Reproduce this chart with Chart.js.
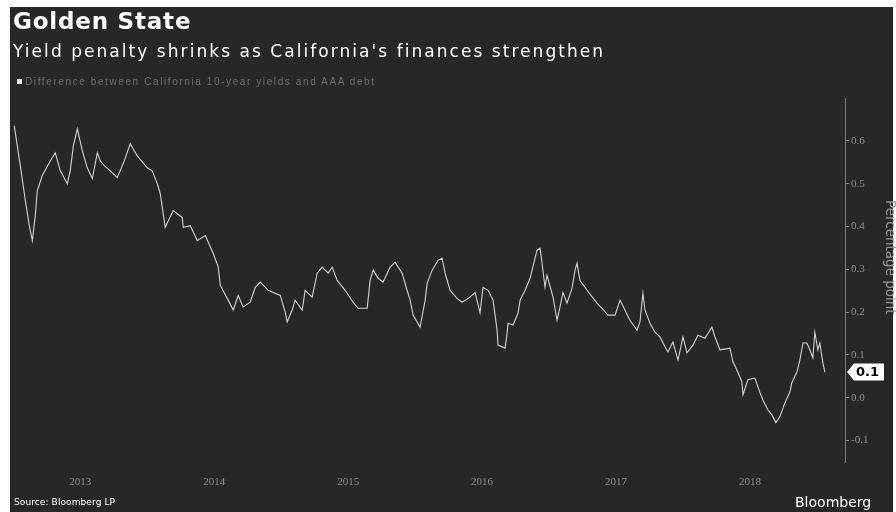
<!DOCTYPE html>
<html>
<head>
<meta charset="utf-8">
<script src="https://cdn.jsdelivr.net/npm/chart.js@4.4.1/dist/chart.umd.min.js"></script>
<style>
  html, body { margin: 0; padding: 0; background: #ffffff; width: 896px; height: 512px; overflow: hidden; }
  #panel { position: absolute; left: 10px; top: 7px; width: 883px; height: 505px; background: #272727; }
  #wrap { position: absolute; left: 0; top: 0; width: 896px; height: 512px; }
  .txt { position: absolute; white-space: nowrap; font-family: "DejaVu Sans", sans-serif; }
  #title { left: 13px; top: 8px; font-size: 23px; font-weight: bold; color: #ffffff; letter-spacing: 0.8px; }
  #subtitle { left: 13px; top: 41px; font-size: 17px; color: #ffffff; letter-spacing: 2.05px; }
  #legend { left: 17px; top: 76px; font-size: 10px; color: #6e6e6e; font-family: "Liberation Sans", sans-serif; letter-spacing: 1.6px; }
  #legend span.sq { display: inline-block; width: 5px; height: 5px; background: #e8e8e8; margin-right: 3px; vertical-align: 1px; }
  #source { left: 14px; top: 497px; font-size: 9px; color: #ffffff; letter-spacing: 0.1px; }
  #brand { left: 795px; top: 494px; font-size: 14px; color: #ffffff; }
  #ytitle { left: 899px; top: 200px; font-size: 13.5px; color: #9a9a9a; transform-origin: 0 0; transform: rotate(90deg); }
</style>
</head>
<body>
<div id="panel"></div>
<div id="wrap"><canvas id="c" width="896" height="512"></canvas></div>
<div class="txt" id="title">Golden State</div>
<div class="txt" id="subtitle">Yield penalty shrinks as California's finances strengthen</div>
<div class="txt" id="legend"><span class="sq"></span>Difference between California 10-year yields and AAA debt</div>
<div class="txt" id="source">Source: Bloomberg LP</div>
<div class="txt" id="brand">Bloomberg</div>
<div class="txt" id="ytitle">Percentage point</div>
<script>
// Dates as decimal years
const dates = [
  2012.507, 2012.552, 2012.590, 2012.619, 2012.642, 2012.664, 2012.679, 2012.716, 2012.776, 2012.813,
  2012.851, 2012.903, 2012.925, 2012.948, 2012.978, 2013.015, 2013.052, 2013.090, 2013.127, 2013.149,
  2013.179, 2013.224, 2013.276, 2013.328, 2013.373, 2013.425, 2013.500, 2013.537, 2013.575, 2013.597,
  2013.619, 2013.634, 2013.694, 2013.761, 2013.769, 2013.821, 2013.873, 2013.933, 2013.993, 2014.030,
  2014.045, 2014.104, 2014.142, 2014.179, 2014.216, 2014.269, 2014.306, 2014.343, 2014.403, 2014.493,
  2014.530, 2014.545, 2014.582, 2014.604, 2014.657, 2014.679, 2014.731, 2014.769, 2014.806, 2014.851,
  2014.881, 2014.918, 2014.978, 2015.037, 2015.075, 2015.142, 2015.164, 2015.187, 2015.224, 2015.261,
  2015.313, 2015.351, 2015.403, 2015.440, 2015.463, 2015.485, 2015.537, 2015.575, 2015.590, 2015.627,
  2015.672, 2015.701, 2015.724, 2015.761, 2015.813, 2015.851, 2015.910, 2015.948, 2015.985, 2016.007,
  2016.045, 2016.082, 2016.112, 2016.119, 2016.172, 2016.187, 2016.194, 2016.231, 2016.269, 2016.284,
  2016.321, 2016.358, 2016.410, 2016.433, 2016.448, 2016.470, 2016.485, 2016.530, 2016.560, 2016.582,
  2016.604, 2016.634, 2016.672, 2016.694, 2016.709, 2016.731, 2016.784, 2016.858, 2016.896, 2016.940,
  2016.993, 2017.030, 2017.067, 2017.104, 2017.157, 2017.179, 2017.201, 2017.216, 2017.254, 2017.291,
  2017.328, 2017.366, 2017.388, 2017.425, 2017.463, 2017.500, 2017.530, 2017.575, 2017.612, 2017.664,
  2017.716, 2017.739, 2017.776, 2017.851, 2017.873, 2017.903, 2017.940, 2017.948, 2017.985, 2018.037,
  2018.075, 2018.097, 2018.134, 2018.164, 2018.194, 2018.224, 2018.261, 2018.299, 2018.313, 2018.351,
  2018.373, 2018.396, 2018.425, 2018.448, 2018.470, 2018.485, 2018.507, 2018.522, 2018.545, 2018.560
];
// Spread, percentage points
const spreadValues = [
  0.635, 0.542, 0.460, 0.402, 0.367, 0.426, 0.484, 0.519, 0.553, 0.572,
  0.530, 0.500, 0.530, 0.588, 0.628, 0.577, 0.537, 0.512, 0.572, 0.553,
  0.542, 0.530, 0.514, 0.553, 0.593, 0.565, 0.537, 0.530, 0.500, 0.477,
  0.430, 0.398, 0.437, 0.421, 0.398, 0.402, 0.367, 0.379, 0.337, 0.305,
  0.263, 0.228, 0.205, 0.239, 0.212, 0.223, 0.258, 0.270, 0.251, 0.239,
  0.200, 0.177, 0.205, 0.228, 0.205, 0.251, 0.235, 0.291, 0.305, 0.291,
  0.305, 0.274, 0.251, 0.223, 0.209, 0.209, 0.274, 0.298, 0.279, 0.270,
  0.305, 0.316, 0.291, 0.251, 0.228, 0.193, 0.165, 0.228, 0.267, 0.298,
  0.321, 0.326, 0.291, 0.251, 0.232, 0.223, 0.235, 0.246, 0.198, 0.258,
  0.251, 0.228, 0.158, 0.123, 0.116, 0.151, 0.174, 0.170, 0.198, 0.228,
  0.251, 0.279, 0.344, 0.349, 0.314, 0.258, 0.286, 0.235, 0.181, 0.212,
  0.246, 0.221, 0.256, 0.298, 0.314, 0.274, 0.251, 0.221, 0.209, 0.193,
  0.193, 0.228, 0.205, 0.181, 0.158, 0.177, 0.244, 0.205, 0.174, 0.153,
  0.142, 0.119, 0.107, 0.130, 0.088, 0.142, 0.105, 0.123, 0.146, 0.139,
  0.165, 0.142, 0.112, 0.116, 0.084, 0.065, 0.037, 0.007, 0.042, 0.046,
  0.012, -0.005, -0.028, -0.040, -0.058, -0.044, -0.012, 0.014, 0.035, 0.060,
  0.088, 0.128, 0.128, 0.112, 0.093, 0.153, 0.112, 0.128, 0.081, 0.060
];
const yearTicks = [2013, 2014, 2015, 2016, 2017, 2018];
const yTicks = [-0.1, 0.0, 0.1, 0.2, 0.3, 0.4, 0.5, 0.6];

const points = dates.map((d, i) => ({ x: d, y: spreadValues[i] }));

const lastValuePlugin = {
  id: 'lastValue',
  afterDraw(chart) {
    const ctx = chart.ctx;
    const yScale = chart.scales.y;
    const last = spreadValues[spreadValues.length - 1];
    const py = yScale.getPixelForValue(last);
    const x0 = chart.chartArea.right + 2;
    const h = 17, w = 37;
    ctx.save();
    ctx.fillStyle = '#ffffff';
    ctx.beginPath();
    ctx.moveTo(x0, py);
    ctx.lineTo(x0 + 7, py - h / 2);
    ctx.lineTo(x0 + w, py - h / 2);
    ctx.lineTo(x0 + w, py + h / 2);
    ctx.lineTo(x0 + 7, py + h / 2);
    ctx.closePath();
    ctx.fill();
    ctx.fillStyle = '#000000';
    ctx.font = 'bold 13px "DejaVu Sans", sans-serif';
    ctx.textBaseline = 'middle';
    ctx.textAlign = 'left';
    ctx.fillText(last.toFixed(1), x0 + 9, py + 1);
    ctx.restore();
  }
};

new Chart(document.getElementById('c'), {
  type: 'line',
  data: {
    datasets: [{
      data: points,
      borderColor: '#d2d2d2',
      borderWidth: 1.1,
      pointRadius: 0,
      tension: 0,
      fill: false
    }]
  },
  options: {
    responsive: false,
    animation: false,
    events: [],
    layout: { padding: { left: 12, top: 98, right: 0, bottom: 20 } },
    plugins: { legend: { display: false }, tooltip: { enabled: false } },
    scales: {
      x: {
        type: 'linear',
        min: 2012.49,
        max: 2018.71,
        afterBuildTicks(scale) { scale.ticks = yearTicks.map(v => ({ value: v })); },
        afterFit(scale) { scale.height = 30; },
        grid: { display: false, drawTicks: false },
        border: { display: false },
        ticks: {
          color: '#8c8c8c',
          padding: 14,
          maxRotation: 0,
          autoSkip: false,
          font: { family: 'Liberation Serif', size: 11 },
          callback: (v) => String(v)
        }
      },
      y: {
        position: 'right',
        min: -0.15,
        max: 0.7,
        afterBuildTicks(scale) { scale.ticks = yTicks.map(v => ({ value: v })); },
        afterFit(scale) { scale.width = 51; },
        grid: { display: true, drawOnChartArea: false, drawTicks: true, tickLength: 4, color: '#8a8a8a' },
        border: { display: true, color: '#7a7a7a', width: 1 },
        ticks: {
          color: '#8c8c8c',
          padding: 2,
          font: { family: 'Liberation Serif', size: 11 },
          callback: (v) => Number(v).toFixed(1)
        }
      }
    }
  },
  plugins: [lastValuePlugin]
});
</script>
</body>
</html>
